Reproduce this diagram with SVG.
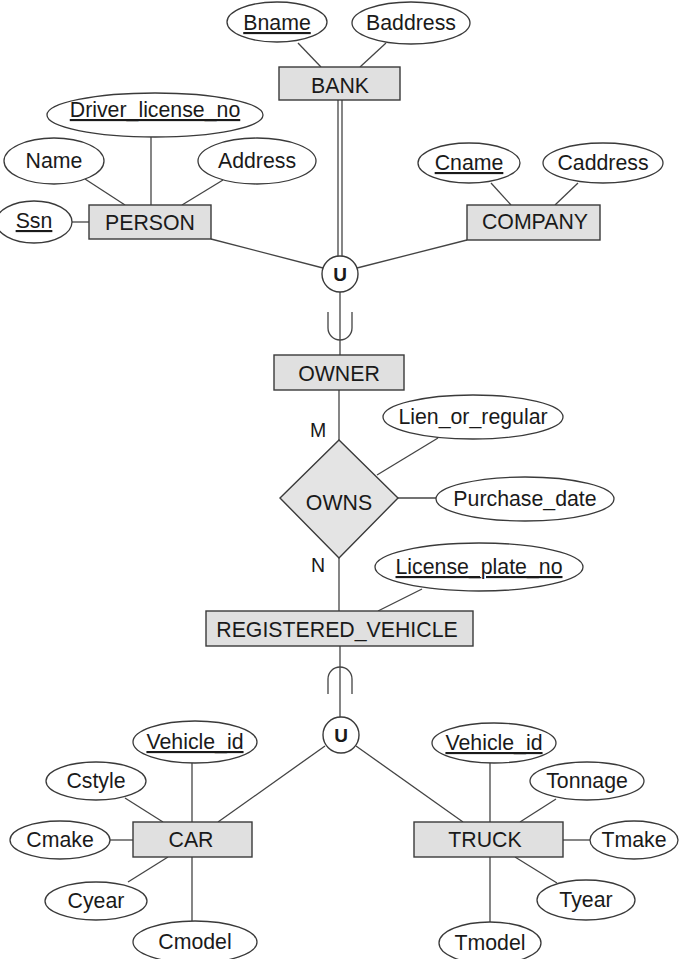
<svg xmlns="http://www.w3.org/2000/svg" width="682" height="959" viewBox="0 0 682 959">
<style>
  .ent { fill: #e0e0e0; stroke: #3a3a3a; stroke-width: 1.4; }
  .att { fill: #ffffff; stroke: #3a3a3a; stroke-width: 1.3; }
  .rel { fill: #e4e4e4; stroke: #3a3a3a; stroke-width: 1.4; }
  .cir { fill: #ffffff; stroke: #3a3a3a; stroke-width: 1.4; }
  .ln { stroke: #444; stroke-width: 1.3; fill: none; }
  text { font-family: "Liberation Sans", Arial, sans-serif; font-size: 21.3px; fill: #1a1a1a; text-anchor: middle; }
  .key { text-decoration: underline; }
  .u { font-weight: bold; font-size: 19px; }
  .card { font-size: 19.5px; }
</style>
<rect width="682" height="959" fill="#ffffff"/>
<g id="connectors">
  <line class="ln" x1="298" y1="43" x2="321" y2="67"/>
  <line class="ln" x1="386" y1="43" x2="360" y2="67"/>
  <line class="ln" x1="338" y1="100" x2="338" y2="257"/>
  <line class="ln" x1="342" y1="100" x2="342" y2="257"/>
  <line class="ln" x1="151" y1="137" x2="151" y2="205"/>
  <line class="ln" x1="85" y1="179" x2="125" y2="205"/>
  <line class="ln" x1="223" y1="180" x2="182" y2="205"/>
  <line class="ln" x1="72" y1="222" x2="89" y2="222"/>
  <line class="ln" x1="211" y1="239" x2="323" y2="268"/>
  <line class="ln" x1="491" y1="183" x2="511" y2="205"/>
  <line class="ln" x1="578" y1="183" x2="555" y2="205"/>
  <line class="ln" x1="467" y1="240" x2="357" y2="268"/>
  <line class="ln" x1="340" y1="292" x2="340" y2="355"/>
  <path class="ln" d="M328,312 V328 A12,12 0 0 0 352,328 V312"/>
  <line class="ln" x1="339" y1="390" x2="339" y2="440"/>
  <line class="ln" x1="438" y1="438" x2="377" y2="475"/>
  <line class="ln" x1="398" y1="498" x2="436" y2="498"/>
  <line class="ln" x1="339" y1="558" x2="339" y2="611"/>
  <line class="ln" x1="422" y1="589" x2="378" y2="611"/>
  <line class="ln" x1="340" y1="646" x2="340" y2="717"/>
  <path class="ln" d="M328,694 V679 A12,12 0 0 1 352,679 V694"/>
  <line class="ln" x1="325" y1="746" x2="218" y2="822"/>
  <line class="ln" x1="356" y1="746" x2="463" y2="822"/>
  <line class="ln" x1="192" y1="763" x2="192" y2="822"/>
  <line class="ln" x1="125" y1="798" x2="163" y2="822"/>
  <line class="ln" x1="110" y1="840" x2="133" y2="840"/>
  <line class="ln" x1="128" y1="882" x2="168" y2="857"/>
  <line class="ln" x1="192" y1="857" x2="192" y2="921"/>
  <line class="ln" x1="490" y1="763" x2="490" y2="822"/>
  <line class="ln" x1="556" y1="799" x2="520" y2="822"/>
  <line class="ln" x1="563" y1="840" x2="590" y2="840"/>
  <line class="ln" x1="557" y1="883" x2="515" y2="857"/>
  <line class="ln" x1="490" y1="857" x2="490" y2="922"/>
  <text class="card" x="318" y="437">M</text>
  <text class="card" x="318" y="572">N</text>
</g>
<g id="bank"><rect class="ent" x="279" y="67" width="121" height="33"/><text x="340" y="93">BANK</text></g>
<g id="bname"><ellipse class="att" cx="277" cy="22" rx="50" ry="20"/><text class="key" x="277" y="30">Bname</text></g>
<g id="baddress"><ellipse class="att" cx="411" cy="23" rx="59" ry="21"/><text x="411" y="30">Baddress</text></g>
<g id="person"><rect class="ent" x="89" y="205" width="122" height="34"/><text x="150" y="230">PERSON</text></g>
<g id="driver_license_no"><ellipse class="att" cx="155" cy="115" rx="108" ry="22"/><text class="key" x="155" y="117">Driver_license_no</text></g>
<g id="name"><ellipse class="att" cx="54" cy="161" rx="50" ry="23"/><text x="54" y="168">Name</text></g>
<g id="address"><ellipse class="att" cx="257" cy="161" rx="59" ry="23"/><text x="257" y="168">Address</text></g>
<g id="ssn"><ellipse class="att" cx="34" cy="222" rx="38" ry="21"/><text class="key" x="34" y="228">Ssn</text></g>
<g id="company"><rect class="ent" x="467" y="205" width="133" height="35"/><text x="535" y="229">COMPANY</text></g>
<g id="cname"><ellipse class="att" cx="469" cy="163" rx="51" ry="20"/><text class="key" x="469" y="170">Cname</text></g>
<g id="caddress"><ellipse class="att" cx="603" cy="163" rx="60" ry="20"/><text x="603" y="170">Caddress</text></g>
<g id="union1"><circle class="cir" cx="340" cy="274" r="18"/><text class="u" x="340" y="281">U</text></g>
<g id="owner"><rect class="ent" x="274" y="355" width="130" height="35"/><text x="339" y="381">OWNER</text></g>
<g id="owns"><polygon class="rel" points="339,440 398,498 339,558 280,498"/><text x="339" y="510">OWNS</text></g>
<g id="lien_or_regular"><ellipse class="att" cx="473" cy="417" rx="90" ry="22"/><text x="473" y="424">Lien_or_regular</text></g>
<g id="purchase_date"><ellipse class="att" cx="525" cy="499" rx="89" ry="22"/><text x="525" y="506">Purchase_date</text></g>
<g id="registered_vehicle"><rect class="ent" x="206" y="611" width="267" height="35"/><text x="337" y="637">REGISTERED_VEHICLE</text></g>
<g id="license_plate_no"><ellipse class="att" cx="479" cy="567" rx="104" ry="24"/><text class="key" x="479" y="574">License_plate_no</text></g>
<g id="union2"><circle class="cir" cx="341" cy="735" r="18"/><text class="u" x="341" y="742">U</text></g>
<g id="car"><rect class="ent" x="133" y="822" width="119" height="35"/><text x="191" y="847">CAR</text></g>
<g id="car_vehicle_id"><ellipse class="att" cx="195" cy="742" rx="62" ry="21"/><text class="key" x="195" y="749">Vehicle_id</text></g>
<g id="cstyle"><ellipse class="att" cx="96" cy="781" rx="50" ry="19"/><text x="96" y="788">Cstyle</text></g>
<g id="cmake"><ellipse class="att" cx="60" cy="840" rx="50" ry="19"/><text x="60" y="847">Cmake</text></g>
<g id="cyear"><ellipse class="att" cx="96" cy="901" rx="51" ry="19"/><text x="96" y="908">Cyear</text></g>
<g id="cmodel"><ellipse class="att" cx="195" cy="942" rx="62" ry="21"/><text x="195" y="949">Cmodel</text></g>
<g id="truck"><rect class="ent" x="414" y="822" width="149" height="35"/><text x="485" y="847">TRUCK</text></g>
<g id="truck_vehicle_id"><ellipse class="att" cx="494" cy="743" rx="62" ry="20"/><text class="key" x="494" y="750">Vehicle_id</text></g>
<g id="tonnage"><ellipse class="att" cx="587" cy="781" rx="57" ry="19"/><text x="587" y="788">Tonnage</text></g>
<g id="tmake"><ellipse class="att" cx="634" cy="840" rx="44" ry="19"/><text x="634" y="847">Tmake</text></g>
<g id="tyear"><ellipse class="att" cx="586" cy="900" rx="49" ry="20"/><text x="586" y="907">Tyear</text></g>
<g id="tmodel"><ellipse class="att" cx="490" cy="943" rx="51" ry="21"/><text x="490" y="950">Tmodel</text></g>
</svg>
